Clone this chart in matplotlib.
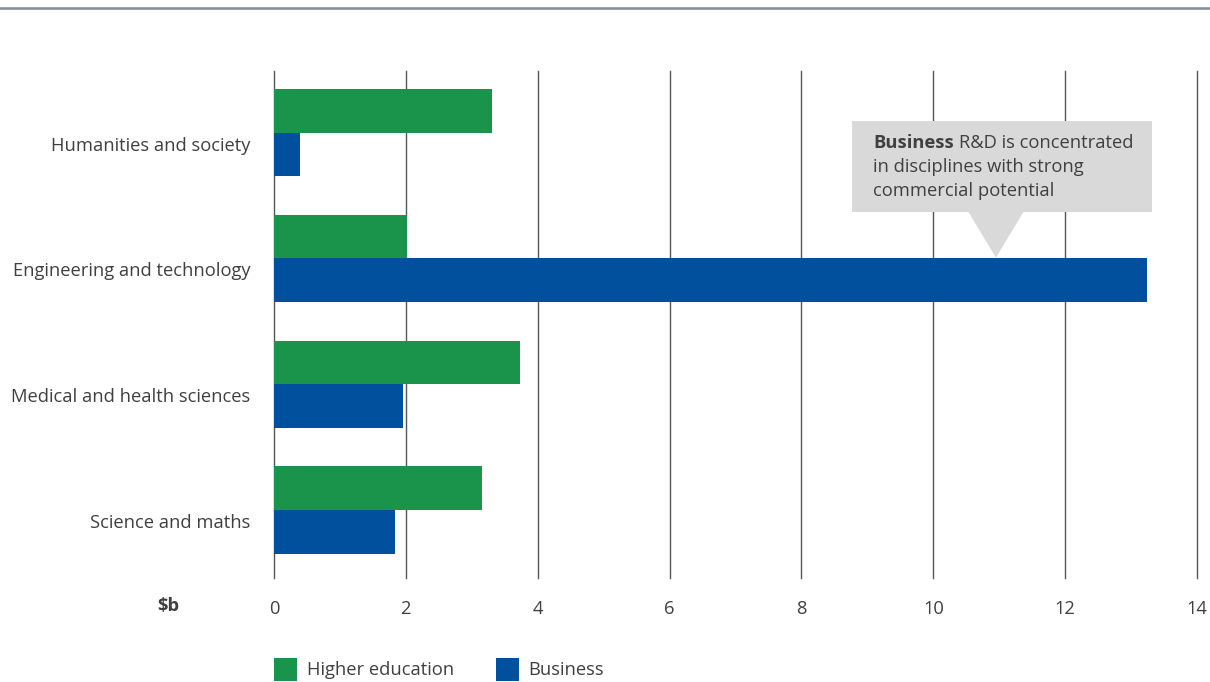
import numpy as np
import matplotlib.pyplot as plt
from matplotlib.patches import Rectangle, Polygon
from matplotlib.transforms import ScaledTranslation

plt.rcParams['font.family'] = ['Open Sans', 'DejaVu Sans']

categories = ["Humanities and society", "Engineering and technology",
              "Medical and health sciences", "Science and maths"]
higher_ed = [3.31, 2.02, 3.73, 3.15]
business = [0.39, 13.24, 1.96, 1.83]
xticks = [0, 2, 4, 6, 8, 10, 12, 14]

green = "#1b944b"
blue = "#00509e"
txt = "#404040"
fs = 13.2

fig = plt.figure(figsize=(12.1, 6.82), dpi=100)
ax = fig.add_axes([0.2264, 0.1525, 0.7629, 0.7434])

y = np.arange(len(categories))
h = 0.347
ax.barh(y - h / 2, higher_ed, height=h, color=green, zorder=3)
ax.barh(y + h / 2, business, height=h, color=blue, zorder=3)

ax.set_xlim(0, 14)
ax.set_ylim(3.54, -0.49)
ax.set_xticks(xticks)
ax.set_xticklabels([str(t) for t in xticks], fontsize=fs, color=txt)
ax.set_yticks(y)
ax.set_yticklabels(categories, fontsize=fs, color=txt)
ax.tick_params(axis='both', length=0)
ax.tick_params(axis='x', pad=16)
ax.tick_params(axis='y', pad=17)
# category labels sit a little below the bar pair centre
shift = ScaledTranslation(0, -11 / 100, fig.dpi_scale_trans)
for lab in ax.get_yticklabels():
    lab.set_transform(lab.get_transform() + shift)
for s in ax.spines.values():
    s.set_visible(False)
for t in xticks:
    ax.axvline(t, color="#555555", lw=1, zorder=1, clip_on=False)

# $b unit label
fig.text(168 / 1210, 1 - 606 / 682, "$b", fontsize=fs, fontweight='bold',
         color=txt, ha='center', va='center')

# top rule
fig.add_artist(plt.Line2D([0, 1], [1 - 8 / 682, 1 - 8 / 682], color="#7f8c99",
                          lw=1.8, transform=fig.transFigure))

# callout box
box_x0, box_x1 = 8.77, 13.32
box_y0, box_y1 = -0.095, 0.628
ax.add_patch(Rectangle((box_x0, box_y0), box_x1 - box_x0, box_y1 - box_y0,
                       facecolor="#d9d9d9", edgecolor='none', zorder=4))
ax.add_patch(Polygon([(10.53, box_y1), (11.37, box_y1), (10.95, 0.994)],
                     closed=True, facecolor="#d9d9d9", edgecolor='none', zorder=4))
bold = ax.text(9.09, 0.08, "Business", fontsize=fs, fontweight='bold', color=txt,
               va='center', ha='left', zorder=5)
fig.canvas.draw()
bb = bold.get_window_extent()
x_after = ax.transData.inverted().transform((bb.x1 + 5, 0))[0]
ax.text(x_after, 0.08, "R&D is concentrated", fontsize=fs, color=txt,
        va='center', ha='left', zorder=5)
ax.text(9.09, 0.27, "in disciplines with strong", fontsize=fs, color=txt,
        va='center', ha='left', zorder=5)
ax.text(9.09, 0.46, "commercial potential", fontsize=fs, color=txt,
        va='center', ha='left', zorder=5)

# legend
fig.add_artist(Rectangle((274 / 1210, 1 - 681 / 682), 23 / 1210, 23 / 682,
                         facecolor=green, edgecolor='none', transform=fig.transFigure))
fig.text(307 / 1210, 1 - 670 / 682, "Higher education", fontsize=fs, color=txt,
         va='center', ha='left')
fig.add_artist(Rectangle((496 / 1210, 1 - 681 / 682), 23 / 1210, 23 / 682,
                         facecolor=blue, edgecolor='none', transform=fig.transFigure))
fig.text(528 / 1210, 1 - 670 / 682, "Business", fontsize=fs, color=txt,
         va='center', ha='left')

fig.savefig("out.png", dpi=100)
